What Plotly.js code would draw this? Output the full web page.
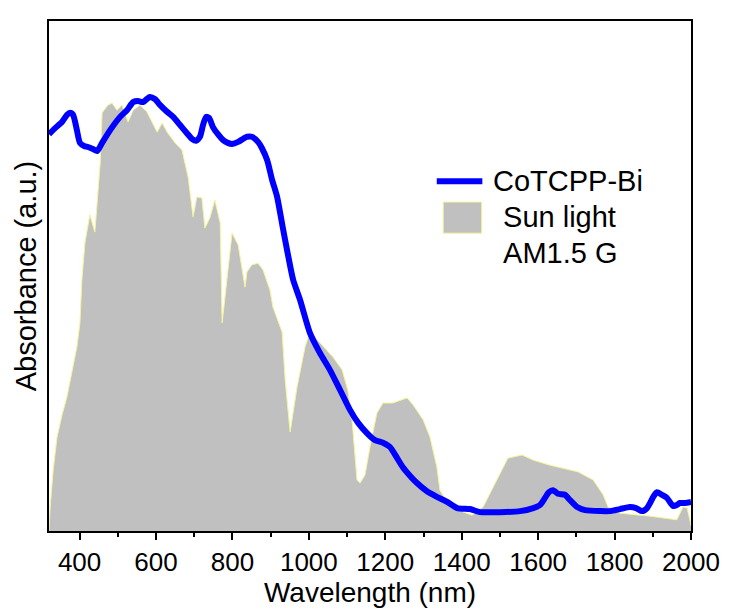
<!DOCTYPE html>
<html>
<head>
<meta charset="utf-8">
<script src="https://cdn.plot.ly/plotly-3.0.1.min.js"></script>
<style>
html,body{margin:0;padding:0;background:#fff;}
#chart{width:729px;height:612px;}
</style>
</head>
<body>
<div id="chart"></div>
<script>
// CoTCPP-Bi absorbance (a.u.)
const cotcppWavelength = [320,336,354,367,375,383,393,401,412,422,435,446,459,480,506,524,540,553,566,576,584,597,611,626,645,663,681,694,705,715,723,731,739,749,762,775,788,799,815,828,838,851,867,877,891,904,917,932,945,959,977,1003,1029,1055,1082,1108,1129,1152,1173,1194,1212,1231,1246,1265,1283,1309,1335,1362,1388,1422,1448,1500,1553,1587,1605,1618,1628,1639,1652,1670,1683,1702,1723,1762,1788,1814,1840,1856,1872,1885,1893,1903,1911,1924,1937,1953,1963,1971,1984,2000];
const cotcppAbsorbance = [0.778,0.790,0.802,0.816,0.820,0.816,0.786,0.761,0.755,0.753,0.749,0.745,0.761,0.786,0.812,0.825,0.841,0.843,0.841,0.847,0.851,0.847,0.835,0.824,0.812,0.796,0.780,0.769,0.765,0.773,0.796,0.812,0.810,0.792,0.778,0.767,0.761,0.759,0.763,0.769,0.773,0.773,0.763,0.751,0.727,0.688,0.655,0.594,0.543,0.492,0.453,0.388,0.349,0.316,0.276,0.237,0.212,0.192,0.178,0.173,0.165,0.143,0.125,0.108,0.094,0.078,0.067,0.057,0.045,0.043,0.037,0.037,0.039,0.045,0.051,0.065,0.076,0.080,0.073,0.071,0.061,0.047,0.041,0.039,0.039,0.043,0.047,0.045,0.039,0.045,0.055,0.069,0.076,0.071,0.065,0.049,0.051,0.055,0.055,0.057];

// Solar spectrum AM1.5 G (scaled)
const sunWavelength = [320,323,331,341,354,367,380,393,401,406,414,427,440,454,459,474,485,498,511,527,540,558,576,590,603,616,631,650,668,684,697,707,720,728,741,754,768,773,799,815,828,833,838,851,867,880,898,906,930,938,951,969,990,1003,1034,1063,1087,1102,1113,1126,1134,1147,1160,1178,1194,1220,1257,1273,1299,1317,1335,1343,1369,1427,1456,1492,1521,1558,1587,1631,1704,1744,1770,1783,1814,1893,1963,1979,1990,1997,2000];
const sunIrradiance = [0,0.047,0.120,0.184,0.227,0.263,0.312,0.361,0.408,0.492,0.565,0.620,0.586,0.722,0.820,0.835,0.839,0.825,0.835,0.802,0.825,0.835,0.822,0.802,0.782,0.800,0.780,0.761,0.747,0.694,0.616,0.655,0.653,0.594,0.614,0.649,0.604,0.408,0.584,0.561,0.498,0.478,0.508,0.522,0.525,0.512,0.473,0.439,0.390,0.296,0.194,0.282,0.361,0.390,0.365,0.341,0.316,0.276,0.218,0.100,0.094,0.110,0.165,0.231,0.251,0.251,0.261,0.247,0.218,0.184,0.125,0.080,0.047,0.031,0.047,0.100,0.143,0.149,0.139,0.129,0.116,0.100,0.071,0.047,0.035,0.029,0.022,0.047,0.045,0.022,0.010];

const xTickVals = [400,600,800,1000,1200,1400,1600,1800,2000];
const xTickText = ['400','600','800','1000','1200','1400','1600','1800','2000'];

const seriesNames = ['CoTCPP-Bi', '\u00a0Sun light', '\u00a0AM1.5 G'];

const FONT = '"Liberation Sans", Arial, sans-serif';

const traces = [
  {
    x: sunWavelength, y: sunIrradiance, type: 'scatter', mode: 'lines',
    fill: 'tozeroy', fillcolor: '#c0c0c0',
    line: {color: '#f5f59a', width: 1},
    name: 'Sun light AM1.5 G', showlegend: false, hoverinfo: 'skip'
  },
  {
    x: cotcppWavelength, y: cotcppAbsorbance, type: 'scatter', mode: 'lines',
    line: {color: '#0000ff', width: 6, shape: 'spline', smoothing: 0.6},
    name: 'CoTCPP-Bi', showlegend: false, hoverinfo: 'skip'
  }
];

const layout = {
  width: 729, height: 612,
  margin: {l: 49, r: 38, t: 21, b: 81},
  paper_bgcolor: '#ffffff', plot_bgcolor: '#ffffff',
  font: {family: FONT, color: '#000', size: 26},
  showlegend: false,
  xaxis: {
    range: [320, 2000],
    tickmode: 'array', tickvals: xTickVals, ticktext: xTickText,
    ticks: 'outside', ticklen: 7, tickwidth: 2, tickcolor: '#000',
    minor: {tickmode: 'linear', tick0: 300, dtick: 100, ticks: 'outside', ticklen: 4, tickwidth: 2, tickcolor: '#000'},
    showline: true, linewidth: 2, linecolor: '#000', mirror: true,
    showgrid: false, zeroline: false,
    tickfont: {family: FONT, size: 26, color: '#000'},
    title: {text: 'Wavelength (nm)', font: {family: FONT, size: 28, color: '#000'}, standoff: 0}
  },
  yaxis: {
    range: [0, 1],
    showticklabels: false, ticks: '',
    showline: true, linewidth: 2, linecolor: '#000', mirror: true,
    showgrid: false, zeroline: false,
    title: {text: 'Absorbance (a.u.)', font: {family: FONT, size: 29, color: '#000'}, standoff: 2}
  },
  shapes: [
    {type: 'line', xref: 'paper', yref: 'paper', x0: 0.604, x1: 0.675, y0: 0.686, y1: 0.686,
     line: {color: '#0000ff', width: 6}},
    {type: 'rect', xref: 'paper', yref: 'paper', x0: 0.614, x1: 0.674, y0: 0.584, y1: 0.645,
     fillcolor: '#c0c0c0', line: {color: '#f5f59a', width: 1}}
  ],
  annotations: [
    {xref: 'paper', yref: 'paper', x: 0.688, y: 0.686, xanchor: 'left', yanchor: 'middle',
     text: seriesNames[0], showarrow: false, font: {family: FONT, size: 29, color: '#000'}},
    {xref: 'paper', yref: 'paper', x: 0.692, y: 0.616, xanchor: 'left', yanchor: 'middle',
     text: seriesNames[1], showarrow: false, font: {family: FONT, size: 29, color: '#000'}},
    {xref: 'paper', yref: 'paper', x: 0.692, y: 0.545, xanchor: 'left', yanchor: 'middle',
     text: seriesNames[2], showarrow: false, font: {family: FONT, size: 29, color: '#000'}}
  ]
};

Plotly.newPlot('chart', traces, layout, {staticPlot: true, displayModeBar: false});
</script>
</body>
</html>
